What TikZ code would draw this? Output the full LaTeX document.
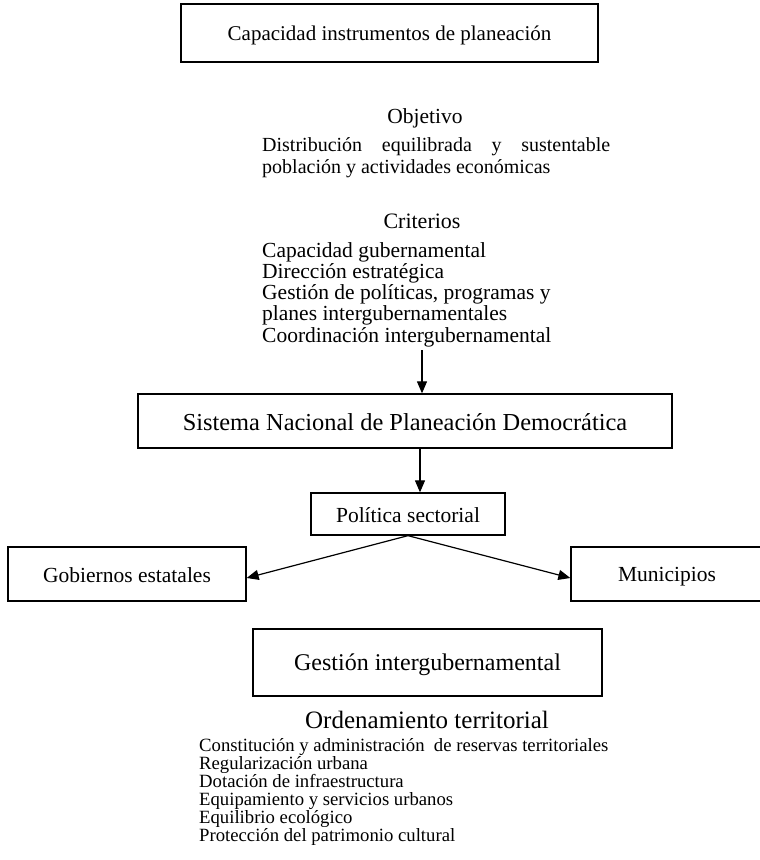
\documentclass[tikz,border=0pt]{standalone}
\usepackage{fontspec}
\setmainfont{Liberation Serif}
\usetikzlibrary{arrows.meta}
\newcommand{\fs}[1]{\fontsize{#1}{#1}\selectfont}
\newcommand{\lowstrut}{\rule[-0.15em]{0pt}{1.07em}}
\tikzset{
  box/.style={draw, line width=1.3pt, inner sep=0pt},
  txt/.style={inner sep=0pt},
  arr/.style={line width=1.2pt, -{Triangle[length=12pt,width=10pt]}},
}
\begin{document}
\begin{tikzpicture}[x=1pt,y=-1pt]
\useasboundingbox (0,0) rectangle (760,860);
% top box
\node[box, minimum width=417pt, minimum height=58pt, font=\fs{21}] (top) at (389.5,33) {\lowstrut Capacidad instrumentos de planeación};
% objetivo
\node[txt, anchor=base, font=\fs{21.5}] (obj) at (425,123) {Objetivo};
\node[txt, anchor=base west, font=\fs{20}] (o1) at (262,151) {\makebox[348pt][s]{Distribución equilibrada y sustentable}};
\node[txt, anchor=base west, font=\fs{20}] (o2) at (262,173) {población y actividades económicas};
% criterios
\node[txt, anchor=base, font=\fs{22}] (crit) at (422,228) {Criterios};
\node[txt, anchor=base west, font=\fs{21.5}] (c1) at (262,257) {Capacidad gubernamental};
\node[txt, anchor=base west, font=\fs{21.5}] (c2) at (262,278) {Dirección estratégica};
\node[txt, anchor=base west, font=\fs{21.5}] (c3) at (262,299) {Gestión de políticas, programas y};
\node[txt, anchor=base west, font=\fs{21.5}] (c4) at (262,320) {planes intergubernamentales};
\node[txt, anchor=base west, font=\fs{21.5}] (c5) at (262,342) {Coordinación intergubernamental};
% sistema
\node[box, minimum width=534pt, minimum height=54pt, font=\fs{24.4}] (sist) at (405,421) {\lowstrut Sistema Nacional de Planeación Democrática};
\coordinate (a1) at (422,350);
\draw[arr] (a1) -- (a1 |- sist.north);
% politica
\node[box, minimum width=194pt, minimum height=42pt, font=\fs{21.5}] (pol) at (408,514) {\lowstrut Política sectorial};
\coordinate (a2) at (420,0);
\draw[arr] (sist.south -| a2) -- (pol.north -| a2);
% gobiernos / municipios
\node[box, minimum width=238pt, minimum height=54pt, font=\fs{21.5}] (gob) at (127,574) {\lowstrut Gobiernos estatales};
\node[box, minimum width=192pt, minimum height=54pt, font=\fs{21.5}] (mun) at (667,574) {\lowstrut Municipios};
\draw[arr] (pol.south) -- ([yshift=-4pt]gob.east);
\draw[arr] (pol.south) -- ([yshift=-4pt]mun.west);
% gestion
\node[box, minimum width=349pt, minimum height=67pt, font=\fs{24}] (gest) at (427.5,662.5) {\lowstrut Gestión intergubernamental};
% ordenamiento
\node[txt, anchor=base, font=\fs{25}] (ord) at (427,728) {Ordenamiento territorial};
\node[txt, anchor=base west, font=\fs{18.7}] (l1) at (199,751) {Constitución y administración\ \ de reservas territoriales};
\node[txt, anchor=base west, font=\fs{18.7}] (l2) at (199,769) {Regularización urbana};
\node[txt, anchor=base west, font=\fs{18.7}] (l3) at (199,787) {Dotación de infraestructura};
\node[txt, anchor=base west, font=\fs{18.7}] (l4) at (199,805) {Equipamiento y servicios urbanos};
\node[txt, anchor=base west, font=\fs{18.7}] (l5) at (199,823) {Equilibrio ecológico};
\node[txt, anchor=base west, font=\fs{18.7}] (l6) at (199,841) {Protección del patrimonio cultural};
\end{tikzpicture}
\end{document}
